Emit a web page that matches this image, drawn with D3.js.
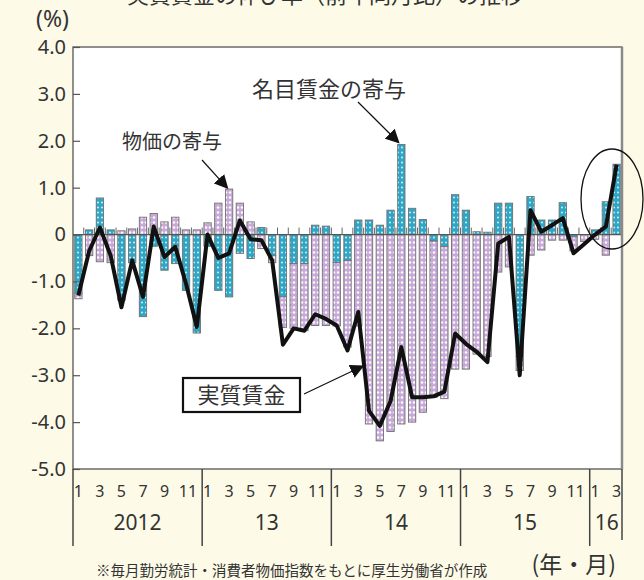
<!DOCTYPE html>
<html>
<head>
<meta charset="utf-8">
<script src="https://cdn.jsdelivr.net/npm/d3@7"></script>
<style>
  html, body { margin: 0; padding: 0; background: #fdfbe8; }
  svg { display: block; }
  text { font-family: "Noto Sans CJK JP", "Noto Sans", sans-serif; fill: #333; }
</style>
</head>
<body>
<svg id="chart" width="644" height="580"></svg>
<script>
// Year blocks on the x axis and how many months each one holds
const years = ["2012", "13", "14", "15", "16"];
const monthsInYear = [12, 12, 12, 12, 3];
const monthTickLabels = ["1", "3", "5", "7", "9", "11"];

// Contribution of nominal wages (percentage points), Jan 2012 - Mar 2016
const nominal = [
  -1.25, 0.10, 0.78, 0.10, -1.40, -0.60, -1.75, -0.25, -0.76, -0.62, -1.19, -2.10,
  -0.25, -1.19, -1.33, -0.40, -0.51, 0.15, -0.45, -1.33, -0.62, -0.62, 0.20, 0.18,
  -0.60, -0.55, 0.31, 0.31, 0.20, 0.52, 1.92, 0.56, 0.32, -0.14, -0.26, 0.85,
  0.52, 0.06, 0.05, 0.67, 0.67, -2.60, 0.81, 0.31, 0.31, 0.68, -0.05, 0.00,
  0.10, 0.70, 1.50
];
// Contribution of prices (percentage points)
const price = [
  -0.12, -0.45, -0.58, -0.60, 0.08, 0.12, 0.37, 0.45, 0.27, 0.37, 0.10, 0.10,
  0.25, 0.67, 0.97, 0.67, 0.27, -0.30, -0.15, -0.65, -1.38, -1.43, -1.94, -1.94,
  -1.35, -1.85, -1.95, -4.04, -4.40, -4.20, -4.04, -4.00, -3.79, -3.33, -3.24, -2.87,
  -2.87, -2.55, -2.60, -0.80, -0.69, -0.30, -0.44, -0.33, -0.12, -0.12, -0.30, -0.15,
  -0.10, -0.44, 0.00
];
// Real wages, year-on-year change (%)
const real = [
  -1.30, -0.35, 0.15, -0.45, -1.55, -0.55, -1.33, 0.17, -0.48, -0.26, -1.05, -1.97,
  0.00, -0.50, -0.40, 0.30, -0.10, -0.12, -0.55, -2.35, -2.00, -2.05, -1.70, -1.80,
  -1.94, -2.47, -1.65, -3.76, -4.08, -3.55, -2.40, -3.47, -3.47, -3.45, -3.35, -2.11,
  -2.33, -2.50, -2.72, -0.19, -0.05, -3.00, 0.52, 0.06, 0.20, 0.35, -0.40, -0.20,
  0.00, 0.17, 1.49
];
const yTicks = [4, 3, 2, 1, 0, -1, -2, -3, -4, -5];

// month index -> calendar month number and year block
const monthNo = [], yearIdx = [];
monthsInYear.forEach((n, yi) => { for (let m = 1; m <= n; m++) { monthNo.push(m); yearIdx.push(yi); } });
const idx = d3.range(monthNo.length);
const rows = idx.map(i => ({ i, nominal: nominal[i], price: price[i] }));

const svg = d3.select("#chart");
const plotL = 73, plotR = 622, plotT = 47, plotB = 469;

const x = d3.scaleBand().domain(idx).range([plotL, plotR]).paddingInner(0.32).paddingOuter(0.16);
const y = d3.scaleLinear().domain([-5, 4]).range([plotB, plotT]);
const step = x.step();
const boundaryX = k => k <= 0 ? plotL : k >= idx.length ? plotR
  : plotL + x.paddingOuter() * step + k * step - x.paddingInner() * step / 2;

// fill patterns: dotted cyan and dotted lavender
const defs = svg.append("defs");
const pc = defs.append("pattern").attr("id", "patNominal").attr("patternUnits", "userSpaceOnUse")
  .attr("width", 4).attr("height", 5);
pc.append("rect").attr("width", 4).attr("height", 5).attr("fill", "#2ea7c6");
pc.append("circle").attr("cx", 2).attr("cy", 2.5).attr("r", 0.9).attr("fill", "#e6f6fb");
const pp = defs.append("pattern").attr("id", "patPrice").attr("patternUnits", "userSpaceOnUse")
  .attr("width", 4).attr("height", 5);
pp.append("rect").attr("width", 4).attr("height", 5).attr("fill", "#c9a9d9");
pp.append("circle").attr("cx", 2).attr("cy", 2.5).attr("r", 1.2).attr("fill", "#ffffff");

// plot background
svg.append("rect").attr("x", plotL).attr("y", plotT).attr("width", plotR - plotL).attr("height", plotB - plotT)
  .attr("fill", "#ffffff");

// stacked contributions
const stack = d3.stack().keys(["nominal", "price"]).offset(d3.stackOffsetDiverging);
const series = stack(rows);
const fills = { nominal: "url(#patNominal)", price: "url(#patPrice)" };
svg.append("g").selectAll("g").data(series).join("g")
  .attr("fill", d => fills[d.key])
  .selectAll("rect").data(d => d).join("rect")
  .attr("x", d => x(d.data.i))
  .attr("width", x.bandwidth())
  .attr("y", d => y(Math.max(d[0], d[1])))
  .attr("height", d => Math.abs(y(d[0]) - y(d[1])))
  .attr("stroke", "#6f6f6f").attr("stroke-width", 0.9);

// zero line with month marks
const zeroY = y(0);
svg.append("line").attr("x1", plotL).attr("x2", plotR).attr("y1", zeroY).attr("y2", zeroY)
  .attr("stroke", "#555").attr("stroke-width", 1.3);
svg.append("g").selectAll("line").data(d3.range(1, idx.length)).join("line")
  .attr("x1", k => boundaryX(k)).attr("x2", k => boundaryX(k))
  .attr("y1", zeroY).attr("y2", zeroY - 7)
  .attr("stroke", "#666").attr("stroke-width", 1);

// real wage line
const line = d3.line().x((d, i) => x(i) + x.bandwidth() / 2).y(d => y(d));
svg.append("path").datum(real).attr("d", line)
  .attr("fill", "none").attr("stroke", "#111").attr("stroke-width", 4)
  .attr("stroke-linejoin", "round");

// plot frame
svg.append("rect").attr("x", plotL).attr("y", plotT).attr("width", plotR - plotL).attr("height", plotB - plotT)
  .attr("fill", "none").attr("stroke", "#555").attr("stroke-width", 1.3);
svg.append("line").attr("x1", plotR).attr("x2", plotR).attr("y1", plotT).attr("y2", plotB)
  .attr("stroke", "#8a8a8a").attr("stroke-width", 2.5);

// y axis
const yAxis = d3.axisLeft(y).tickValues(yTicks)
  .tickFormat(d => d === 0 ? "0" : (d < 0 ? "-" : "") + Math.abs(d).toFixed(1))
  .tickSizeInner(-7).tickSizeOuter(0).tickPadding(7);
const gy = svg.append("g").attr("transform", `translate(${plotL},0)`).call(yAxis);
gy.select(".domain").remove();
gy.selectAll("line").attr("stroke", "#555").attr("stroke-width", 1.2);
gy.selectAll("text").attr("font-size", 20).attr("fill", "#333")
  .style("font-family", "'Noto Sans', sans-serif");

svg.append("text").attr("x", 36).attr("y", 27).attr("font-size", 23).text("(%)")
  .style("font-family", "'Noto Sans', sans-serif");

// x axis: months, years, separators
const gx = svg.append("g");
gx.selectAll("text.m").data(idx.filter(i => monthNo[i] % 2 === 1)).join("text")
  .attr("class", "m")
  .attr("x", i => x(i) + x.bandwidth() / 2 + (monthNo[i] === 11 ? 2 : 0))
  .attr("y", 497).attr("text-anchor", "middle").attr("font-size", 16)
  .style("font-family", "'Noto Sans', sans-serif")
  .text(i => monthNo[i]);
let acc = 0;
const yearStarts = monthsInYear.map(n => { const s = acc; acc += n; return s; });
gx.selectAll("line.sep").data(yearStarts.concat([idx.length])).join("line")
  .attr("class", "sep")
  .attr("x1", k => boundaryX(k)).attr("x2", k => boundaryX(k))
  .attr("y1", plotB).attr("y2", k => k === idx.length ? 540 : 546)
  .attr("stroke", "#444").attr("stroke-width", 1.5);
gx.selectAll("text.yr").data(years).join("text")
  .attr("class", "yr")
  .attr("x", (d, yi) => (boundaryX(yearStarts[yi]) + boundaryX(yearStarts[yi] + monthsInYear[yi])) / 2 + (yi === 4 ? 1 : 0))
  .attr("y", 530).attr("text-anchor", "middle").attr("font-size", 21)
  .style("font-family", "'Noto Sans', sans-serif")
  .text(d => d);

svg.append("text").attr("x", 616).attr("y", 573).attr("text-anchor", "end").attr("font-size", 23)
  .text("(年・月)");
svg.append("text").attr("x", 96).attr("y", 576).attr("font-size", 14.5)
  .text("※毎月勤労統計・消費者物価指数をもとに厚生労働省が作成");

// chart title (runs off the top edge)
svg.append("text").attr("x", 325).attr("y", 3).attr("text-anchor", "middle").attr("font-size", 22)
  .text("実質賃金の伸び率（前年同月比）の推移");

// annotations
defs.append("marker").attr("id", "arrowHead").attr("viewBox", "0 0 10 10")
  .attr("refX", 9).attr("refY", 5).attr("markerWidth", 14).attr("markerHeight", 14)
  .attr("markerUnits", "userSpaceOnUse").attr("orient", "auto")
  .append("path").attr("d", "M0,0 L10,5 L0,10 Z").attr("fill", "#111");

svg.append("text").attr("x", 252).attr("y", 97).attr("font-size", 22).attr("fill", "#222").text("名目賃金の寄与");
svg.append("line").attr("x1", 358).attr("y1", 102).attr("x2", x(30) + 1).attr("y2", y(nominal[30]) - 2)
  .attr("stroke", "#111").attr("stroke-width", 1.2).attr("marker-end", "url(#arrowHead)");

svg.append("text").attr("x", 122).attr("y", 149).attr("font-size", 20).attr("fill", "#222").text("物価の寄与");
svg.append("line").attr("x1", 202).attr("y1", 160).attr("x2", x(14) + 2).attr("y2", y(price[14]) - 1)
  .attr("stroke", "#111").attr("stroke-width", 1.2).attr("marker-end", "url(#arrowHead)");

svg.append("rect").attr("x", 183).attr("y", 378).attr("width", 117).attr("height", 34)
  .attr("fill", "#fff").attr("stroke", "#111").attr("stroke-width", 2.2);
svg.append("text").attr("x", 241.5).attr("y", 403).attr("text-anchor", "middle").attr("font-size", 22)
  .attr("fill", "#222").text("実質賃金");
svg.append("line").attr("x1", 304).attr("y1", 394).attr("x2", 363).attr("y2", 366)
  .attr("stroke", "#111").attr("stroke-width", 1.2).attr("marker-end", "url(#arrowHead)");

// highlight of the latest months
svg.append("ellipse").attr("cx", 612).attr("cy", 199).attr("rx", 31).attr("ry", 50)
  .attr("fill", "none").attr("stroke", "#111").attr("stroke-width", 1.3);
</script>
</body>
</html>
